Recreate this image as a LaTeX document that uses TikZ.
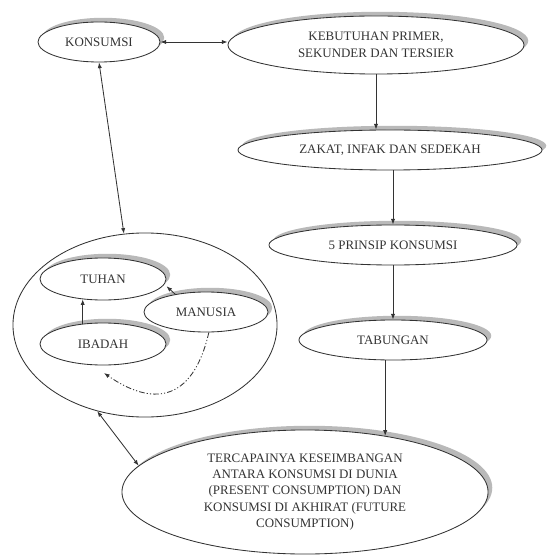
\documentclass[tikz,border=0pt]{standalone}
\usepackage{fontspec}
\setmainfont{Liberation Serif}
\usepackage{xcolor}
\usepackage{tikz}
\usetikzlibrary{shapes.geometric,arrows.meta,shadows,positioning}

\begin{document}
\begin{tikzpicture}[
        x=0.025cm, y=-0.025cm,
        >={Latex[length=4pt,width=3pt]},
        font=\fontsize{9.2}{11.7}\selectfont,
        oval/.style={
            ellipse,
            draw=black!80,
            line width=0.6pt,
            fill=white,
            inner sep=0pt,
            text=black!80,
            align=center
        },
        ovalshade/.style={
            oval,
            drop shadow={shadow xshift=3pt, shadow yshift=3pt, fill=gray!55, opacity=1}
        },
        link/.style={
            line width=0.6pt,
            draw=black!80
        }
    ]
                \useasboundingbox (0,0) rectangle (546,556);

                % left: the big circle with its three inner ovals
                \node[oval, minimum width=6.6cm, minimum height=4.6cm] (lingkar) at (145,325) {};

                \node[ovalshade, minimum width=3.15cm, minimum height=1.05cm] (tuhan) at (103,279) {TUHAN};
                \node[ovalshade, minimum width=3.15cm, minimum height=1.05cm] (ibadah) at (103,344) {IBADAH};
                \node[ovalshade, minimum width=3.1cm, minimum height=1.0cm] (manusia) at (206,312) {MANUSIA};

                % top row and the right column
                \node[ovalshade, minimum width=3.05cm, minimum height=1.0cm] (konsumsi) at (99,42) {KONSUMSI};
                \node[ovalshade, minimum width=7.4cm, minimum height=1.45cm] (kebutuhan) at (376,45) {KEBUTUHAN PRIMER,\\SEKUNDER DAN TERSIER};
                \node[ovalshade, minimum width=7.6cm, minimum height=1.0cm] (zakat) at (390,150) {ZAKAT, INFAK DAN SEDEKAH};
                \node[ovalshade, minimum width=6.2cm, minimum height=1.0cm] (prinsip) at (393,245) {5 PRINSIP KONSUMSI};
                \node[ovalshade, minimum width=4.7cm, minimum height=1.0cm] (tabungan) at (393,340) {TABUNGAN};

                \node[ovalshade, minimum width=9.15cm, minimum height=3.1cm] (akhir) at (305,492)
                    {TERCAPAINYA KESEIMBANGAN\\ANTARA KONSUMSI DI DUNIA\\(PRESENT CONSUMPTION) DAN\\KONSUMSI DI AKHIRAT (FUTURE\\CONSUMPTION)};

                \coordinate (ujung) at (104,373);

                % connectors
                \draw[link, <->] (konsumsi.east) -- (konsumsi.east -| kebutuhan.west);
                \draw[link, ->] (kebutuhan.south) -- (kebutuhan.south |- zakat.north);
                \draw[link, ->] (zakat.south -| prinsip.north) -- (prinsip.north);
                \draw[link, ->] (prinsip.south) -- (tabungan.north);
                \draw[link, ->] (tabungan.south -| akhir.35) -- (akhir.35);

                \draw[link, <->] (konsumsi.south) -- (lingkar.103);
                \draw[link, <->] (lingkar.241) -- (akhir.171);

                \draw[link, ->] (ibadah.135) -- (tuhan.-135);
                \draw[link, ->, shorten >=2pt] (manusia.150) -- (tuhan.-5);

                \draw[
                    link,
                    ->,
                    dash pattern=on 4pt off 1.5pt on 0.8pt off 1.5pt on 0.8pt off 1.5pt
                    ] (manusia.-82) .. controls (192,405) and (150,405) .. (ujung);

\end{tikzpicture}
\end{document}
